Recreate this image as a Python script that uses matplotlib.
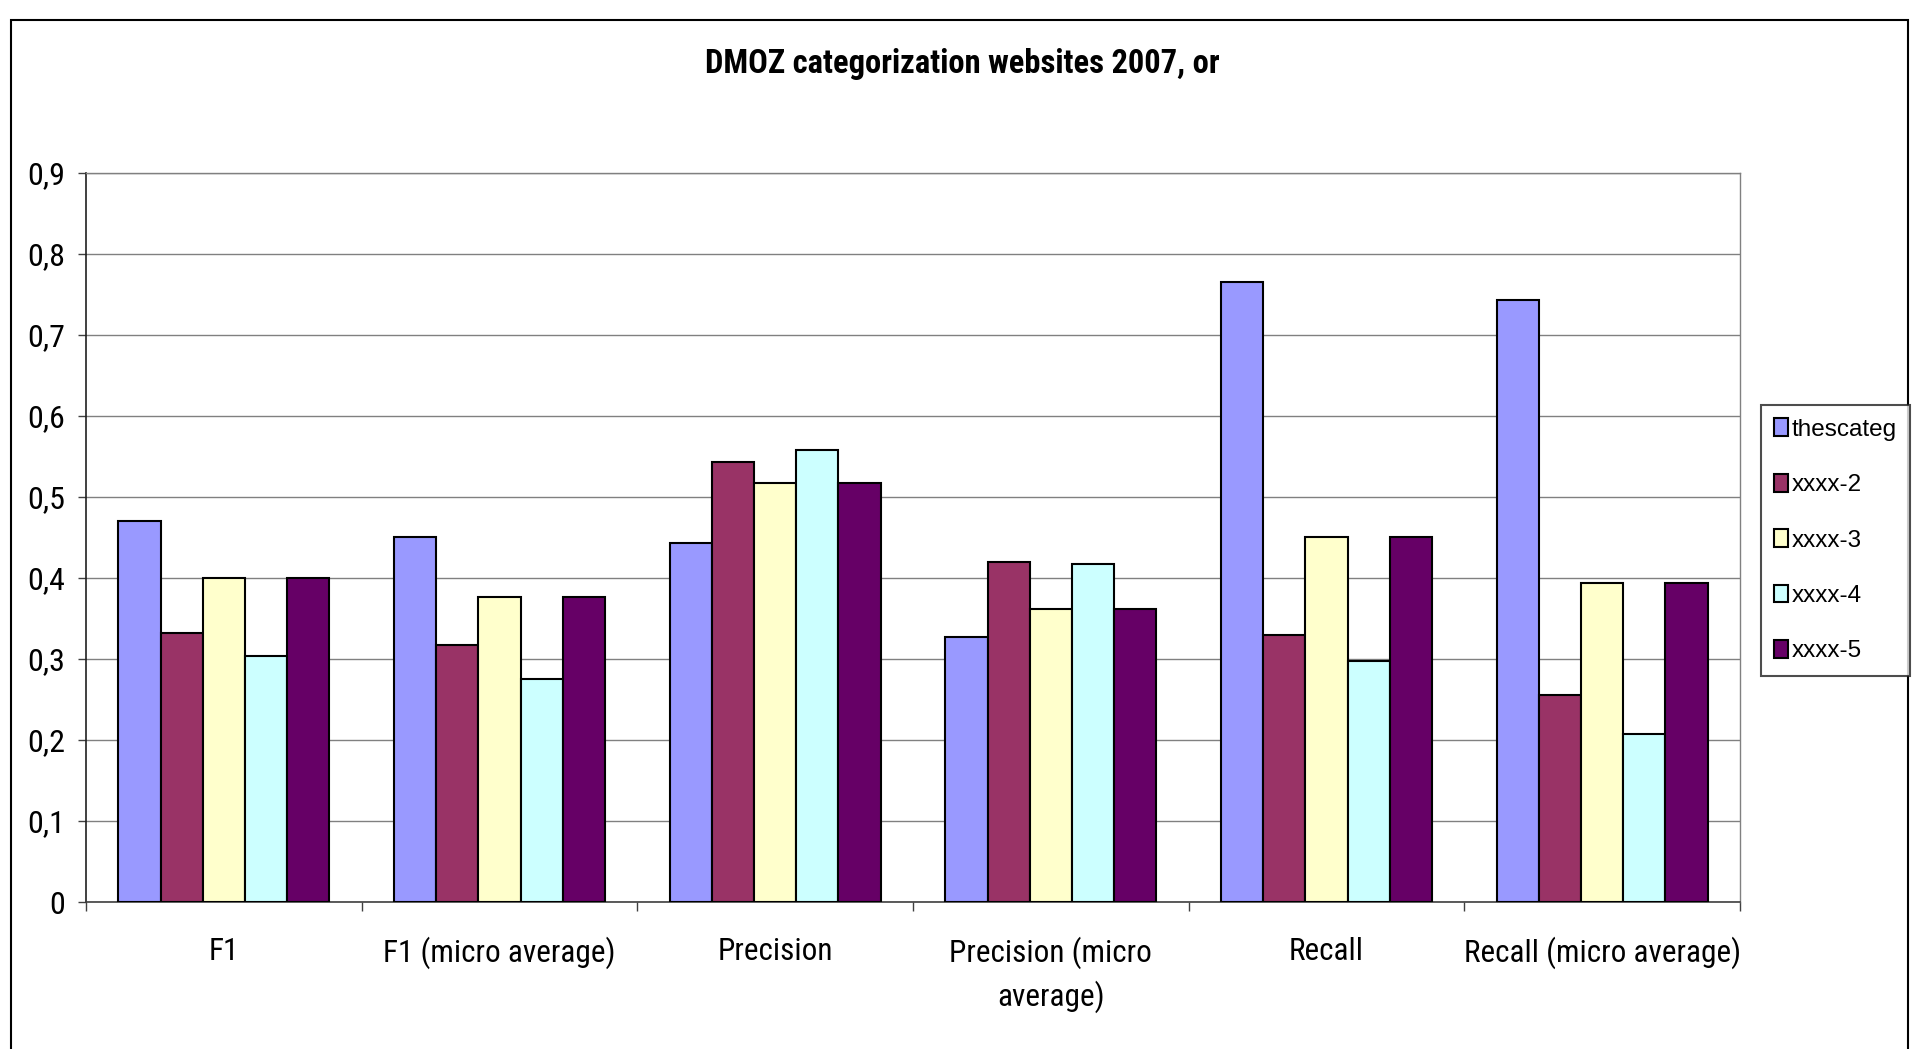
import matplotlib
matplotlib.use('Agg')
import matplotlib.pyplot as plt
import numpy as np
from matplotlib.patches import Rectangle
from matplotlib.ticker import FixedLocator

categories = ["F1", "F1 (micro average)", "Precision", "Precision (micro\naverage)",
              "Recall", "Recall (micro average)"]
series_names = ["thescateg", "xxxx-2", "xxxx-3", "xxxx-4", "xxxx-5"]
thescateg = [0.470, 0.451, 0.443, 0.327, 0.765, 0.743]
xxxx_2 = [0.332, 0.317, 0.543, 0.420, 0.330, 0.256]
xxxx_3 = [0.400, 0.377, 0.517, 0.362, 0.451, 0.394]
xxxx_4 = [0.304, 0.275, 0.558, 0.417, 0.298, 0.208]
xxxx_5 = [0.400, 0.377, 0.517, 0.362, 0.451, 0.394]
series_values = [thescateg, xxxx_2, xxxx_3, xxxx_4, xxxx_5]
colors = ['#9999FF', '#993366', '#FFFFCC', '#CCFFFF', '#660066']
yticks = [0, 0.1, 0.2, 0.3, 0.4, 0.5, 0.6, 0.7, 0.8, 0.9]
ytick_labels = ["0", "0,1", "0,2", "0,3", "0,4", "0,5", "0,6", "0,7", "0,8", "0,9"]
title = "DMOZ categorization websites 2007, or"

narrow = ['Roboto Condensed', 'Liberation Sans', 'DejaVu Sans']
regular = ['Liberation Sans', 'DejaVu Sans']

W, H = 1914, 1049
fig = plt.figure(figsize=(W / 100, H / 100), dpi=100)
fig.patch.set_facecolor('white')

ax = fig.add_axes([86 / W, 1 - 902 / H, 1654 / W, 729 / H])

x = np.arange(len(categories))
bw = 0.153
n = len(series_names)
for i, (name, vals, c) in enumerate(zip(series_names, series_values, colors)):
    ax.bar(x + (i - (n - 1) / 2) * bw, vals, width=bw, color=c, edgecolor='black',
           linewidth=1.5, label=name, zorder=3)

ax.set_xlim(-0.5, len(categories) - 0.5)
ax.set_ylim(0, 0.9)
ax.set_yticks(yticks)
ax.set_yticklabels(ytick_labels, fontfamily=narrow, fontsize=23)
ax.set_xticks(x)
ax.set_xticklabels(categories, fontfamily=narrow, fontsize=22.5, linespacing=1.45)
ax.xaxis.set_minor_locator(FixedLocator(np.arange(-0.5, len(categories), 1.0)))
ax.tick_params(axis='x', which='major', length=0, pad=25)
ax.tick_params(axis='x', which='minor', length=6.5, width=1, direction='out', color='#404040')
ax.tick_params(axis='y', length=5.8, width=1, direction='out', pad=9, color='#404040')

ax.yaxis.grid(True, color='#808080', linewidth=1.0, zorder=0)
ax.set_axisbelow(True)
for s in ['top', 'right']:
    ax.spines[s].set_color('#808080')
    ax.spines[s].set_linewidth(1.0)
ax.spines['left'].set_color('#202020')
ax.spines['left'].set_linewidth(1.2)
ax.spines['bottom'].set_color('#404040')
ax.spines['bottom'].set_linewidth(1.2)

fig.text(962 / W, 1 - 64 / H, title, ha='center', va='center', fontsize=23.5,
         fontweight='bold', fontfamily=narrow)

# outer chart frame
fig.patches.append(Rectangle((11 / W, -0.05), (1908 - 11) / W, 1.05 - 20 / H,
                             transform=fig.transFigure, fill=False,
                             edgecolor='black', linewidth=1.5, zorder=0))

leg = fig.legend(loc='upper left', bbox_to_anchor=(1761 / W, 1 - 405 / H),
                 frameon=True, fancybox=False, prop={'family': regular, 'size': 17.5},
                 handlelength=0.55, handleheight=0.75, handletextpad=0.15,
                 labelspacing=1.36, borderpad=0.55, borderaxespad=0)
leg.get_frame().set_edgecolor('#202020')
leg.get_frame().set_linewidth(1.5)
for p in leg.get_patches():
    p.set_linewidth(1.5)

fig.savefig('out.png', dpi=100)
